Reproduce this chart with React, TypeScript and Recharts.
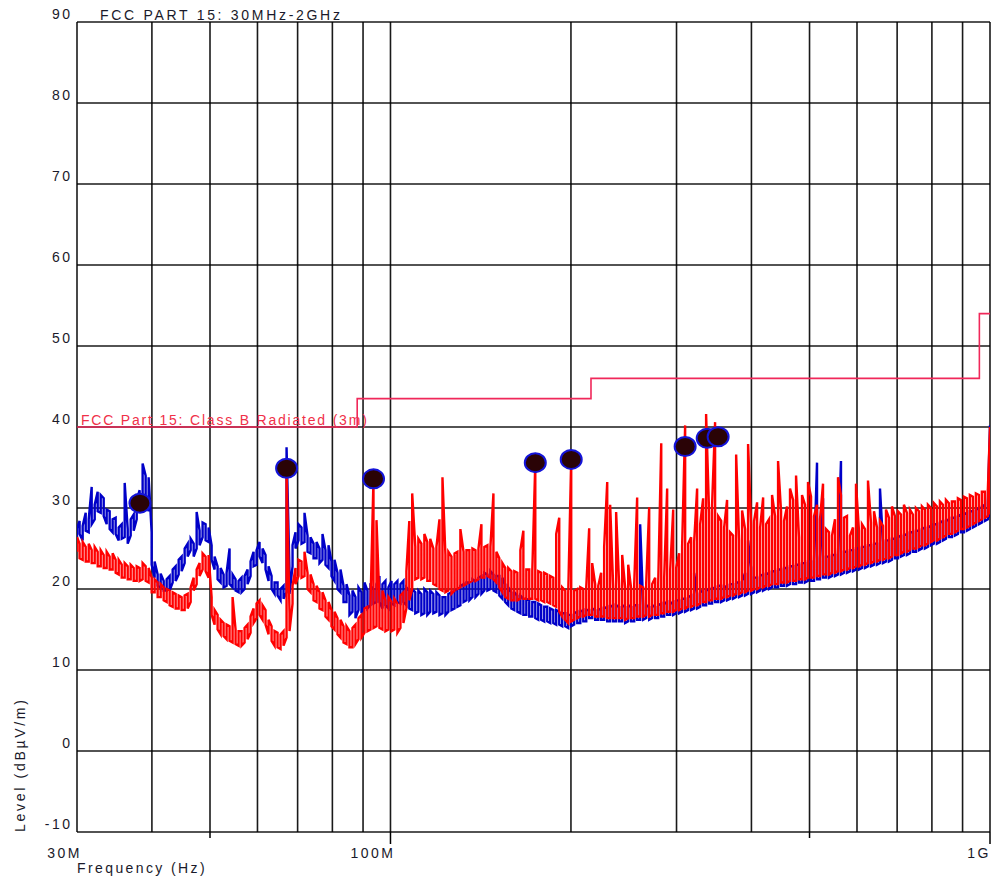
import React from 'react';
import { ComposedChart, Line, Scatter, XAxis, YAxis, CartesianGrid } from 'recharts';

// Frequency sweep points (MHz)
const FREQ_MHZ = [
  30.0,
  30.3, 30.66, 31.02, 31.38, 31.74, 32.11, 32.48, 32.86, 33.24, 33.62,
  34.01, 34.4, 34.8, 35.21, 35.62, 36.03, 36.45, 36.87, 37.3, 37.73,
  38.16, 38.6, 39.05, 39.5, 39.96, 40.42, 40.89, 41.37, 41.85, 42.33,
  42.82, 43.32, 43.82, 44.33, 44.84, 45.36, 45.89, 46.42, 46.96, 47.5,
  48.04, 48.6, 49.16, 49.73, 50.31, 50.89, 51.48, 52.08, 52.68, 53.29,
  53.9, 54.53, 55.16, 55.8, 56.44, 57.1, 57.76, 58.43, 59.11, 59.79,
  60.48, 61.18, 61.89, 62.61, 63.34, 64.07, 64.81, 65.56, 66.32, 67.09,
  67.86, 68.65, 69.44, 70.25, 71.06, 71.88, 72.72, 73.56, 74.42, 75.28,
  76.14, 77.02, 77.91, 78.82, 79.73, 80.66, 81.59, 82.54, 83.5, 84.46,
  85.43, 86.42, 87.42, 88.44, 89.46, 90.5, 91.55, 92.61, 93.68, 94.77,
  95.85, 96.96, 98.08, 99.22, 100.4, 101.5, 102.7, 103.9, 105.1, 106.3,
  107.5, 108.7, 110.0, 111.3, 112.6, 113.9, 115.2, 116.5, 117.9, 119.3,
  120.7, 122.1, 123.5, 124.9, 126.4, 127.9, 129.3, 130.8, 132.4, 133.9,
  135.4, 137.0, 138.6, 140.2, 141.8, 143.4, 145.1, 146.8, 148.5, 150.2,
  151.9, 153.7, 155.4, 157.2, 159.1, 160.9, 162.8, 164.7, 166.6, 168.5,
  170.4, 172.4, 174.4, 176.4, 178.4, 180.5, 182.6, 184.7, 186.9, 189.0,
  191.2, 193.4, 195.7, 197.9, 200.2, 202.5, 204.9, 207.3, 209.7, 212.1,
  214.5, 217.0, 219.5, 222.1, 224.6, 227.2, 229.9, 232.5, 235.2, 237.9,
  240.7, 243.5, 246.3, 249.2, 252.1, 255.0, 257.9, 260.9, 264.0, 267.0,
  270.1, 273.2, 276.4, 279.6, 282.9, 286.1, 289.4, 292.8, 296.2, 299.6,
  303.0, 306.5, 310.1, 313.7, 317.3, 321.0, 324.7, 328.5, 332.3, 336.1,
  340.0, 343.9, 347.9, 352.0, 356.1, 360.2, 364.3, 368.6, 372.8, 377.2,
  381.5, 385.9, 390.4, 394.9, 399.5, 404.1, 408.8, 413.6, 418.4, 423.2,
  428.0, 433.0, 438.0, 443.1, 448.2, 453.4, 458.6, 463.9, 469.4, 474.8,
  480.2, 485.8, 491.4, 497.1, 502.9, 508.7, 514.6, 520.5, 526.6, 532.7,
  538.8, 545.1, 551.4, 557.8, 564.2, 570.8, 577.4, 584.1, 590.9, 597.7,
  604.6, 611.6, 618.7, 625.9, 633.1, 640.5, 647.9, 655.4, 663.0, 670.7,
  678.3, 686.2, 694.1, 702.2, 710.3, 718.5, 726.9, 735.3, 743.8, 752.4,
  761.1, 769.9, 778.8, 787.9, 797.0, 806.2, 815.6, 825.0, 834.6, 844.3,
  853.9, 863.8, 873.8, 883.9, 894.2, 904.5, 915.0, 925.6, 936.4, 947.2,
  958.1, 969.2, 980.4, 991.8, 1000,
];

// Blue trace: lower and upper edge of the noisy trace at each sweep point (dBuV/m)
const BLUE_LO = [
  26.0,
  26.8, 26.0, 27.2, 27.0, 28.0, 28.6, 29.6, 29.4, 29.0, 28.0,
  27.4, 27.0, 26.8, 26.0, 26.2, 26.4, 25.6, 26.6, 27.2, 28.6,
  29.6, 31.0, 31.4, 29.6, 23.0, 21.4, 20.4, 20.2, 19.8, 19.8,
  19.8, 20.8, 21.0, 21.8, 22.2, 23.2, 24.0, 24.8, 24.0, 25.0,
  25.4, 26.4, 26.0, 25.8, 23.6, 22.4, 21.2, 20.8, 20.2, 20.4,
  20.6, 20.2, 19.8, 19.6, 19.6, 20.0, 20.6, 21.6, 22.8, 23.0,
  24.0, 23.2, 22.4, 21.0, 20.0, 19.4, 19.2, 18.6, 18.8, 19.6,
  19.4, 22.8, 25.0, 26.0, 25.6, 25.8, 24.6, 24.4, 23.8, 23.8,
  23.2, 23.6, 23.0, 22.6, 21.6, 21.0, 20.0, 19.6, 18.4, 18.4,
  16.8, 17.2, 16.4, 17.4, 17.0, 17.8, 17.6, 18.0, 18.2, 18.4,
  18.4, 17.6, 18.0, 17.6, 18.2, 18.0, 18.4, 18.2, 18.4, 18.0,
  17.6, 17.4, 17.0, 17.2, 16.8, 17.0, 16.8, 17.2, 17.0, 17.2,
  16.8, 17.0, 16.8, 17.2, 17.4, 17.6, 17.8, 18.0, 18.4, 18.6,
  18.6, 19.0, 19.0, 19.4, 19.4, 19.8, 19.8, 20.0, 19.8, 19.6,
  19.2, 18.8, 18.4, 18.0, 17.6, 17.4, 17.2, 17.0, 16.8, 16.8,
  16.6, 16.6, 16.4, 16.2, 16.2, 16.0, 16.0, 15.8, 15.8, 15.6,
  15.6, 15.4, 15.4, 15.2, 15.4, 15.6, 15.8, 15.8, 16.0, 16.0,
  16.4, 16.4, 16.2, 16.2, 16.2, 16.2, 16.0, 16.0, 16.0, 16.0,
  16.0, 16.0, 15.8, 16.0, 16.0, 16.0, 16.2, 16.2, 16.2, 16.4,
  16.2, 16.4, 16.4, 16.4, 16.6, 16.6, 16.8, 16.8, 16.8, 17.0,
  17.0, 17.2, 17.2, 17.4, 17.4, 17.6, 17.6, 17.8, 18.0, 18.0,
  18.2, 18.2, 18.4, 18.4, 18.4, 18.6, 18.6, 18.8, 18.8, 19.0,
  19.0, 19.2, 19.2, 19.4, 19.4, 19.6, 19.6, 19.8, 19.8, 20.0,
  20.0, 20.2, 20.2, 20.2, 20.4, 20.4, 20.4, 20.6, 20.6, 20.6,
  20.8, 20.8, 20.8, 21.0, 21.0, 21.0, 21.2, 21.2, 21.4, 21.4,
  21.4, 21.6, 21.6, 21.8, 21.8, 22.0, 22.0, 22.2, 22.2, 22.4,
  22.4, 22.6, 22.6, 22.8, 22.8, 23.0, 23.0, 23.2, 23.2, 23.4,
  23.4, 23.6, 23.8, 23.8, 24.0, 24.2, 24.2, 24.4, 24.6, 24.6,
  24.8, 25.0, 25.0, 25.2, 25.4, 25.6, 25.6, 25.8, 26.0, 26.2,
  26.4, 26.4, 26.6, 26.8, 27.0, 27.0, 27.2, 27.4, 27.6, 27.8,
  28.0, 28.2, 28.4, 28.6, 28.8,
];
const BLUE_HI = [
  27.5,
  28.4, 27.8, 29.4, 28.6, 32.6, 30.4, 32.0, 31.6, 31.2, 29.8,
  29.6, 28.6, 28.8, 27.6, 28.0, 33.1, 27.4, 28.6, 29.2, 31.0,
  32.2, 35.5, 34.0, 33.8, 27.0, 23.4, 21.8, 21.9, 21.0, 21.2,
  21.6, 22.4, 22.8, 23.6, 24.0, 25.0, 25.6, 26.2, 25.6, 29.5,
  27.2, 28.2, 28.0, 27.6, 25.4, 24.0, 22.8, 22.6, 21.8, 22.0,
  25.0, 21.8, 21.2, 21.0, 21.4, 21.6, 22.4, 23.4, 24.6, 24.8,
  25.8, 25.0, 24.2, 22.8, 21.6, 20.8, 20.8, 20.0, 20.4, 37.5,
  22.0, 25.4, 27.0, 28.0, 27.6, 29.4, 26.6, 26.4, 25.6, 25.8,
  25.0, 26.8, 24.8, 25.4, 23.4, 23.6, 22.0, 22.4, 20.4, 20.6,
  19.2, 19.8, 19.0, 20.2, 19.6, 20.8, 19.8, 20.4, 20.0, 20.6,
  21.6, 20.6, 21.0, 20.2, 21.0, 20.6, 21.0, 20.6, 21.0, 20.2,
  19.8, 20.0, 19.6, 19.8, 19.4, 20.0, 19.6, 19.8, 19.4, 19.6,
  19.2, 19.0, 19.0, 19.4, 19.6, 19.8, 20.0, 20.4, 20.6, 20.8,
  20.8, 21.2, 21.0, 21.4, 21.6, 22.0, 21.8, 22.2, 21.8, 21.6,
  21.6, 21.4, 20.6, 20.2, 19.6, 19.6, 19.2, 19.2, 18.8, 18.8,
  18.6, 18.4, 18.4, 18.2, 18.0, 17.8, 17.8, 17.6, 17.4, 17.4,
  17.2, 17.0, 17.0, 16.8, 16.8, 17.0, 17.2, 17.2, 17.4, 17.4,
  17.4, 17.6, 17.4, 17.4, 17.6, 17.6, 17.8, 17.8, 18.0, 18.0,
  17.8, 18.0, 17.8, 18.0, 17.8, 18.0, 18.0, 28.0, 17.8, 18.0,
  17.8, 18.0, 17.8, 18.0, 18.2, 18.2, 18.4, 18.2, 18.4, 18.6,
  18.6, 18.8, 18.8, 19.0, 19.2, 22.0, 19.4, 19.6, 19.8, 19.8,
  20.0, 20.0, 20.2, 20.4, 20.4, 20.2, 20.4, 20.6, 20.6, 20.8,
  20.8, 21.0, 22.0, 26.0, 22.6, 21.4, 21.4, 21.6, 21.8, 21.8,
  22.0, 22.2, 22.2, 22.4, 22.4, 22.6, 22.6, 22.8, 22.8, 23.0,
  23.0, 23.2, 23.2, 23.4, 23.4, 23.6, 35.6, 23.8, 31.2, 24.0,
  24.0, 24.2, 24.2, 24.4, 35.8, 24.6, 24.6, 24.8, 24.8, 25.0,
  25.0, 25.2, 25.2, 25.4, 25.4, 25.6, 25.6, 32.4, 25.8, 26.0,
  26.0, 26.2, 26.2, 26.4, 26.6, 26.6, 26.8, 27.0, 27.0, 27.2,
  27.2, 27.4, 27.6, 27.6, 27.8, 28.0, 28.0, 28.2, 28.4, 28.4,
  28.6, 28.8, 28.8, 29.0, 29.2, 29.2, 29.4, 29.6, 29.6, 29.8,
  30.0, 30.2, 30.4, 30.8, 40.2,
];

// Red trace: lower and upper edge of the noisy trace at each sweep point (dBuV/m)
const RED_LO = [
  24.6,
  23.8, 23.6, 23.4, 23.4, 23.2, 23.2, 22.8, 22.8, 22.6, 22.6,
  22.4, 22.4, 22.0, 21.8, 21.4, 21.4, 21.2, 21.2, 21.0, 21.0,
  21.0, 21.2, 21.0, 20.8, 19.6, 19.6, 19.0, 19.0, 18.6, 18.4,
  18.0, 17.8, 17.6, 17.6, 17.4, 17.4, 17.6, 18.4, 19.8, 20.6,
  21.6, 22.4, 22.2, 21.4, 16.8, 15.6, 15.0, 14.4, 14.2, 13.8,
  13.6, 13.4, 13.2, 13.0, 13.0, 13.4, 13.8, 14.6, 15.8, 16.4,
  16.8, 16.2, 15.6, 14.4, 13.6, 13.0, 12.8, 12.6, 13.0, 14.0,
  14.8, 18.2, 20.6, 21.6, 21.4, 21.6, 20.0, 19.6, 18.6, 18.4,
  17.6, 17.4, 16.6, 16.2, 15.4, 15.0, 14.4, 14.0, 13.4, 13.2,
  12.8, 12.8, 13.2, 13.8, 14.0, 14.6, 14.8, 15.0, 15.2, 15.4,
  15.2, 15.0, 14.8, 15.0, 14.8, 15.0, 14.6, 15.2, 15.8, 17.6,
  18.6, 20.0, 21.2, 21.4, 21.2, 21.4, 21.0, 21.0, 20.6, 20.4,
  20.0, 19.8, 19.6, 19.8, 19.4, 19.8, 20.0, 20.2, 20.4, 20.6,
  20.8, 21.0, 21.0, 21.2, 21.4, 21.4, 21.6, 21.4, 21.2, 20.8,
  20.2, 19.6, 19.0, 18.8, 18.6, 18.6, 18.6, 18.8, 18.8, 18.8,
  18.8, 18.8, 18.8, 18.6, 18.6, 18.4, 18.4, 18.2, 18.0, 17.8,
  17.2, 16.6, 16.2, 15.8, 16.0, 16.2, 16.4, 16.6, 16.6, 16.8,
  16.8, 16.8, 16.6, 16.6, 16.6, 16.6, 16.4, 16.4, 16.4, 16.4,
  16.4, 16.4, 16.2, 16.4, 16.4, 16.4, 16.6, 16.6, 16.6, 16.8,
  16.6, 16.8, 16.8, 16.8, 17.0, 17.0, 17.2, 17.2, 17.2, 17.4,
  17.4, 17.6, 17.6, 17.8, 17.8, 18.0, 18.0, 18.2, 18.4, 18.4,
  18.6, 18.6, 18.8, 18.8, 18.8, 19.0, 19.0, 19.2, 19.2, 19.4,
  19.4, 19.6, 19.6, 19.8, 19.8, 20.0, 20.0, 20.2, 20.2, 20.4,
  20.4, 20.6, 20.6, 20.6, 20.8, 20.8, 20.8, 21.0, 21.0, 21.0,
  21.2, 21.2, 21.2, 21.4, 21.4, 21.4, 21.6, 21.6, 21.8, 21.8,
  21.8, 22.0, 22.0, 22.2, 22.2, 22.4, 22.4, 22.6, 22.6, 22.8,
  22.8, 23.0, 23.0, 23.2, 23.2, 23.4, 23.4, 23.6, 23.6, 23.8,
  23.8, 24.0, 24.2, 24.2, 24.4, 24.6, 24.6, 24.8, 25.0, 25.0,
  25.2, 25.4, 25.4, 25.6, 25.8, 26.0, 26.0, 26.2, 26.4, 26.6,
  26.8, 26.8, 27.0, 27.2, 27.4, 27.4, 27.6, 27.8, 28.0, 28.2,
  28.4, 28.6, 28.8, 29.0, 29.2,
];
const RED_HI = [
  26.4,
  25.6, 25.8, 25.2, 25.6, 24.8, 25.2, 24.6, 24.8, 24.2, 24.6,
  24.0, 24.4, 23.6, 23.6, 23.0, 23.2, 22.8, 23.0, 22.6, 22.8,
  22.6, 23.2, 22.8, 22.6, 21.4, 21.2, 20.8, 20.6, 20.2, 20.0,
  19.8, 19.6, 19.4, 19.2, 19.0, 19.2, 19.4, 20.2, 21.4, 22.4,
  23.2, 24.4, 24.0, 24.2, 19.0, 17.4, 16.8, 16.2, 15.8, 15.6,
  15.4, 19.0, 15.0, 14.8, 14.8, 15.2, 15.6, 16.6, 17.6, 18.2,
  18.6, 18.0, 17.4, 16.2, 15.4, 14.8, 14.6, 14.4, 14.8, 34.9,
  17.0, 20.4, 22.6, 23.6, 23.4, 24.6, 22.0, 21.8, 20.6, 20.4,
  19.6, 19.6, 18.6, 18.4, 17.4, 17.2, 16.4, 16.2, 15.4, 15.4,
  14.8, 15.2, 15.6, 16.4, 16.8, 17.6, 17.8, 18.2, 33.6, 28.5,
  18.6, 19.8, 18.6, 19.0, 18.4, 18.8, 18.2, 19.2, 19.6, 22.2,
  28.4, 31.8, 25.2, 26.2, 25.6, 26.8, 25.8, 26.2, 25.0, 25.2,
  28.6, 33.8, 24.2, 24.6, 24.0, 24.4, 24.6, 27.4, 24.6, 24.8,
  24.8, 25.0, 24.8, 25.0, 28.0, 25.2, 25.4, 25.2, 31.8, 24.6,
  23.8, 23.2, 22.6, 22.6, 22.2, 22.2, 22.0, 24.8, 27.2, 22.4,
  22.4, 22.2, 35.6, 22.2, 22.0, 22.0, 21.8, 21.6, 21.4, 26.8,
  28.8, 20.2, 19.8, 19.4, 36.0, 19.8, 20.0, 20.2, 20.0, 20.2,
  27.5, 23.2, 20.6, 20.4, 22.0, 25.2, 33.2, 30.4, 20.4, 29.5,
  20.4, 24.2, 20.2, 23.0, 20.0, 20.6, 31.3, 20.4, 20.2, 20.6,
  30.1, 20.6, 21.4, 20.6, 38.0, 21.4, 32.4, 22.4, 29.8, 22.6,
  24.4, 25.2, 40.2, 25.6, 26.4, 25.8, 32.4, 28.0, 31.2, 41.6,
  29.4, 30.4, 40.6, 29.0, 28.4, 27.6, 31.0, 27.0, 26.6, 36.6,
  26.0, 29.7, 27.4, 37.9, 28.0, 28.4, 30.7, 27.6, 31.3, 28.0,
  28.6, 31.6, 29.0, 35.8, 29.6, 28.4, 30.2, 32.4, 31.0, 34.0,
  26.4, 31.6, 30.4, 33.2, 31.4, 29.0, 30.4, 28.6, 33.0, 27.4,
  27.0, 26.6, 28.6, 33.8, 31.6, 28.8, 29.0, 26.6, 27.6, 33.0,
  27.2, 28.0, 27.4, 33.4, 28.2, 29.6, 27.6, 28.4, 27.8, 29.8,
  28.8, 30.2, 29.0, 29.6, 29.2, 30.4, 29.4, 29.8, 29.2, 30.0,
  29.6, 30.2, 29.8, 30.4, 30.0, 30.6, 30.2, 30.8, 30.4, 31.0,
  30.6, 30.8, 30.8, 31.2, 31.0, 31.4, 31.2, 31.6, 31.4, 31.8,
  31.6, 32.0, 32.0, 32.2, 40.0,
];

// FCC Part 15 Class B radiated limit (3m)
const LIMIT_FREQ = [30, 88, 216, 960, 1000];
const LIMIT_DBUV = [40, 43.5, 46, 54, 54];

// Peak markers
const MARKER_FREQ = [38.2, 67.1, 93.7, 174.4, 200.2, 310.1, 337.5, 352.0];
const MARKER_DBUV = [30.6, 34.9, 33.6, 35.6, 36.0, 37.6, 38.6, 38.8];

const X_TICKS = [30, 40, 50, 60, 70, 80, 90, 100, 200, 300, 400, 500, 600, 700, 800, 900, 1000];
const X_LABELS: Record<number, string> = { 30: '30M', 100: '100M', 1000: '1G' };
const X_MAJOR = [100, 1000];
const X_MINOR = [50, 500];
const Y_TICKS = [-10, 0, 10, 20, 30, 40, 50, 60, 70, 80, 90];

// Each sweep point is drawn as a vertical span (lower -> upper edge), alternating direction
const traceRows: { f: number; blue: number; red: number }[] = [];
FREQ_MHZ.forEach((f, i) => {
  const low = { f, blue: BLUE_LO[i], red: RED_LO[i] };
  const high = { f, blue: BLUE_HI[i], red: RED_HI[i] };
  if (i % 2 === 0) traceRows.push(low, high);
  else traceRows.push(high, low);
});
const limitRows = LIMIT_FREQ.map((f, i) => ({ f, limit: LIMIT_DBUV[i] }));
const markerRows = MARKER_FREQ.map((f, i) => ({ f, peak: MARKER_DBUV[i] }));

const FONT = "'Liberation Sans', Arial, sans-serif";
const TEXT = '#1a1a2a';
const PLOT_BOTTOM = 832;

const XTick = (props: any) => {
  const { x, payload } = props;
  const v = payload.value;
  const label = X_LABELS[v];
  const len = X_MAJOR.includes(v) ? 12 : X_MINOR.includes(v) ? 6 : 0;
  return (
    <g>
      {len > 0 && <line x1={x} x2={x} y1={PLOT_BOTTOM} y2={PLOT_BOTTOM + len} stroke="#000" strokeWidth={1.5} />}
      {label && (
        <text x={v === 1000 ? x + 1 : x + 5} y={858} textAnchor="end" fontFamily={FONT} fontSize={14} letterSpacing={2.5} fill={TEXT}>
          {label}
        </text>
      )}
    </g>
  );
};

const YTick = (props: any) => {
  const { y, payload } = props;
  return (
    <text x={72.5} y={y - 3} textAnchor="end" fontFamily={FONT} fontSize={14} letterSpacing={2.5} fill={TEXT}>
      {payload.value}
    </text>
  );
};

const renderMarker = (props: any) => {
  const { cx, cy } = props;
  return <ellipse cx={cx} cy={cy} rx={10.5} ry={9.5} fill="#2a0306" stroke="#1414d8" strokeWidth={2} />;
};

export default function App() {
  return (
    <div style={{ position: 'absolute', left: 0, top: 0, width: 992, height: 880, background: '#fff' }}>
      <ComposedChart
        width={992}
        height={880}
        data={traceRows}
        margin={{ top: 22, right: 2, bottom: 0, left: 0 }}
      >
        <CartesianGrid stroke="#000" strokeWidth={1.6} strokeOpacity={0.9} />
        <XAxis
          dataKey="f"
          type="number"
          scale="log"
          domain={[30, 1000]}
          ticks={X_TICKS}
          interval={0}
          allowDataOverflow
          tick={<XTick />}
          tickLine={false}
          axisLine={false}
          height={48}
        />
        <YAxis
          type="number"
          domain={[-10, 90]}
          ticks={Y_TICKS}
          interval={0}
          allowDataOverflow
          tick={<YTick />}
          tickLine={false}
          axisLine={false}
          width={77}
        />
        <Line dataKey="blue" stroke="#0000c8" strokeWidth={2.4} strokeLinejoin="miter" dot={false} isAnimationActive={false} />
        <Line dataKey="red" stroke="#ff0000" strokeWidth={2.4} strokeLinejoin="miter" dot={false} isAnimationActive={false} />
        <Line
          data={limitRows}
          dataKey="limit"
          type="stepAfter"
          stroke="#f0285a"
          strokeWidth={1.6}
          dot={false}
          isAnimationActive={false}
        />
        <Scatter data={markerRows} dataKey="peak" shape={renderMarker} isAnimationActive={false} />
      </ComposedChart>
      <svg
        width={992}
        height={880}
        style={{ position: 'absolute', left: 0, top: 0, pointerEvents: 'none' }}
      >
        <text x={100} y={20} fontFamily={FONT} fontSize={14} letterSpacing={2.7} fill={TEXT}>
          FCC PART 15: 30MHz-2GHz
        </text>
        <text x={81} y={425} fontFamily={FONT} fontSize={14} letterSpacing={1.8} fill="#f03048">
          FCC Part 15: Class B Radiated (3m)
        </text>
        <text
          x={25}
          y={832}
          transform="rotate(-90 25 832)"
          fontFamily={FONT}
          fontSize={14}
          letterSpacing={2.7}
          fill={TEXT}
        >
          Level (dBµV/m)
        </text>
        <text x={77} y={873} fontFamily={FONT} fontSize={14} letterSpacing={2.4} fill={TEXT}>
          Frequency (Hz)
        </text>
      </svg>
    </div>
  );
}
